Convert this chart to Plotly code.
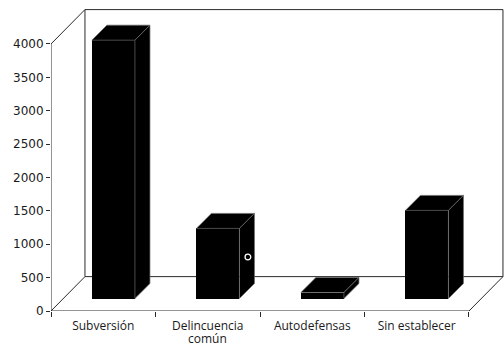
import plotly.graph_objects as go

# Data
categories = ["Subversión", "Delincuencia|común", "Autodefensas", "Sin establecer"]
values = [3870, 1050, 90, 1320]
y_ticks = [0, 500, 1000, 1500, 2000, 2500, 3000, 3500, 4000]

# Pseudo-3D geometry (in axis units)
DX, DY = 0.325, 515          # depth of floor / walls
FX, FY = 0.097, 187          # front face of bars sits a bit inside the floor
BX, BY = 0.144, 225          # depth of each bar
HALF_W = 0.206               # half width of a bar's front face
Y_MAX = 4000
LINE = dict(color="#2a2a2a", width=1)
EDGE = dict(color="#6a6a6a", width=0.7)

fig = go.Figure()

# Front faces as real bars
xs = [i + FX for i in range(len(values))]
fig.add_trace(go.Bar(
    x=xs, y=values, base=[FY] * len(values), width=2 * HALF_W,
    marker=dict(color="black", line=dict(width=0)),
    showlegend=False, hoverinfo="skip",
))

# Top and side faces of each bar
for xc, v in zip(xs, values):
    x0, x1 = xc - HALF_W, xc + HALF_W
    b, t = FY, FY + v
    fig.add_trace(go.Scatter(
        x=[x0, x0 + BX, x1 + BX, x1, x0],
        y=[t, t + BY, t + BY, t, t],
        fill="toself", fillcolor="black", mode="lines", line=EDGE,
        showlegend=False, hoverinfo="skip",
    ))
    fig.add_trace(go.Scatter(
        x=[x1, x1 + BX, x1 + BX, x1, x1],
        y=[b, b + BY, t + BY, t, b],
        fill="toself", fillcolor="black", mode="lines", line=EDGE,
        showlegend=False, hoverinfo="skip",
    ))

# Small white ring on the second bar's side
fig.add_shape(type="circle", xref="x", yref="y",
              x0=1.357, x1=1.412, y0=767, y1=852,
              line=dict(color="white", width=1.3), fillcolor="black", layer="above")

# Frame: front axis lines, floor, back wall and connecting diagonals
x_left, x_right = -0.5, 3.5
segments = [
    (x_left, 0, x_left, Y_MAX),                                # front value axis
    (x_left, 0, x_right, 0),                                   # front floor edge
    (x_left, 0, x_left + DX, DY),                              # floor left diagonal
    (x_right, 0, x_right + DX, DY),                            # floor right diagonal
    (x_left, Y_MAX, x_left + DX, Y_MAX + DY),                  # wall top diagonal
]
for xa, ya, xb, yb in segments:
    fig.add_shape(type="line", xref="x", yref="y", x0=xa, y0=ya, x1=xb, y1=yb,
                  line=LINE, layer="below")
fig.add_shape(type="rect", xref="x", yref="y",
              x0=x_left + DX, y0=DY, x1=x_right + DX, y1=Y_MAX + DY,
              line=LINE, fillcolor="rgba(0,0,0,0)", layer="below")

# Category labels: first line on the axis, a second line (if any) set tighter below
first_lines = [c.split("|")[0] for c in categories]
for i, c in enumerate(categories):
    parts = c.split("|")
    if len(parts) > 1:
        fig.add_annotation(x=i, xref="x", y=-0.127, yref="paper",
                           yanchor="bottom", text=parts[1], showarrow=False,
                           font=dict(family="Open Sans, sans-serif", size=12,
                                     color="#1a1a1a"))

fig.update_layout(
    width=504, height=343, autosize=False,
    margin=dict(l=51, r=0, t=8, b=32, pad=0),
    paper_bgcolor="white", plot_bgcolor="white",
    bargap=0,
    xaxis=dict(
        range=[-0.5, 3.835], showgrid=False, zeroline=False, showline=False,
        tickmode="array", tickvals=[0, 1, 2, 3], ticktext=first_lines,
        ticks="", ticklabelstandoff=6, automargin=False, fixedrange=True,
        tickfont=dict(family="Open Sans, sans-serif", size=12, color="#1a1a1a"),
        minor=dict(tickmode="array", tickvals=[-0.5, 0.5, 1.5, 2.5, 3.5],
                   ticks="outside", ticklen=5, tickcolor="#2a2a2a", tickwidth=1,
                   showgrid=False),
    ),
    yaxis=dict(
        range=[0, 4539], showgrid=False, zeroline=False, showline=False,
        tickmode="array", tickvals=y_ticks,
        ticks="outside", ticklen=4, tickcolor="#2a2a2a", tickwidth=1,
        automargin=False, fixedrange=True,
        tickfont=dict(family="DejaVu Sans, sans-serif", size=12, color="#1a1a1a"),
    ),
)

fig.write_html("out.html")
